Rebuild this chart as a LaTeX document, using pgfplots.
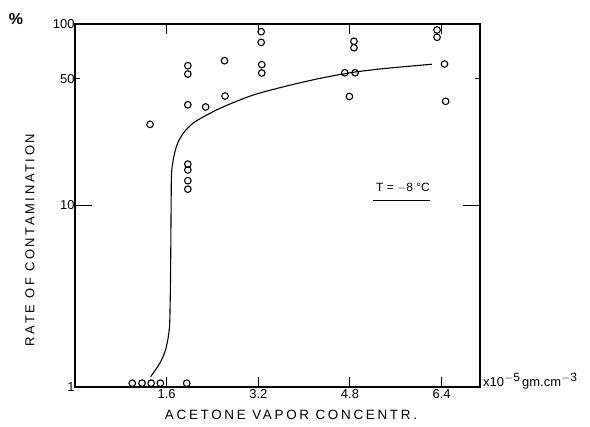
\documentclass[border=0pt]{standalone}
\usepackage{pgfplots}
\pgfplotsset{compat=1.18}
\usepackage{fontspec}
\setmainfont{Liberation Sans}
\newfontfamily\lettering[LetterSpace=20]{Liberation Sans}
\begin{document}
\begin{tikzpicture}
\begin{axis}[
  scale only axis, width=405bp, height=363bp,
  at={(0,0)}, anchor=south west,
  xmin=0, xmax=7.07, ymode=log, ymin=1, ymax=100,
  axis line style={line width=1.1bp},
  tick align=inside,
  major tick length=17bp,
  tick style={black, line width=1bp},
  xtick=\empty,
  extra x ticks={1.6,3.2,4.8,6.4},
  extra x tick labels={1.6,3.2,4.8,6.4},
  extra x tick style={major tick length=10bp},
  ytick={10}, yticklabels={10},
  extra y ticks={1,50,100},
  extra y tick labels={1,50,100},
  extra y tick style={major tick length=5bp},
  ticklabel style={font=\fontsize{13}{13}\selectfont},
  yticklabel style={xshift=3bp},
  xticklabel style={yshift=1bp},
  clip=false,
]
\addplot[only marks, mark=o, mark size=3.3bp, mark options={line width=1.1bp, black}] coordinates {
  (1.00,1.05) (1.17,1.05) (1.33,1.05) (1.49,1.05) (1.95,1.05)
  (1.31,28)
  (1.97,58.9) (1.97,53) (1.97,35.9) (1.97,16.9) (1.97,15.7) (1.97,13.7) (1.97,12.3)
  (2.28,34.9)
  (2.61,62.8) (2.62,40.1)
  (3.25,90.7) (3.25,79.2) (3.26,59.7) (3.26,53.7)
  (4.87,80.3) (4.87,74) (4.71,53.9) (4.89,53.9) (4.79,39.9)
  (6.32,92.7) (6.32,84.5) (6.45,60.2) (6.47,37.5)
};
\addplot[smooth, tension=0.5, line width=1.1bp, black, no marks] coordinates {
  (1.32,1.14) (1.48,1.35) (1.58,1.6) (1.645,2.06) (1.662,3.0) (1.672,5.7)
  (1.678,9.7) (1.69,15.7) (1.77,21.1) (1.89,25) (2.06,28.4) (2.30,31.5)
  (2.59,35) (3.11,40.6) (3.69,45.5) (4.28,50.2) (4.86,54.2) (5.44,57) (6.23,60)
};
\end{axis}
\node[font=\fontsize{16}{16}\selectfont\bfseries] at (-59bp,368bp) {\%};
\node[rotate=90, font=\fontsize{13}{13}\selectfont\lettering] at (-45bp,147bp) {RATE OF CONTAMINATION};
\node[font=\fontsize{13.5}{13.5}\selectfont\lettering] at (216bp,-28bp) {ACETONE VAPOR CONCENTR.};
\node[anchor=base west, inner sep=0pt, font=\fontsize{13}{13}\selectfont] at (408bp,1bp) {x10\raisebox{5bp}{\fontsize{12}{12}\selectfont $-$5}\,gm.cm\raisebox{5bp}{\fontsize{12}{12}\selectfont $-$3}};
\node[font=\fontsize{12}{12}\selectfont] at (328bp,199bp) {T = $-$8 °C};
\draw[line width=1bp] (298bp,186bp) -- (355bp,186bp);
\pgfresetboundingbox
\useasboundingbox (-75bp,-40bp) rectangle (515bp,387bp);
\end{tikzpicture}
\end{document}
